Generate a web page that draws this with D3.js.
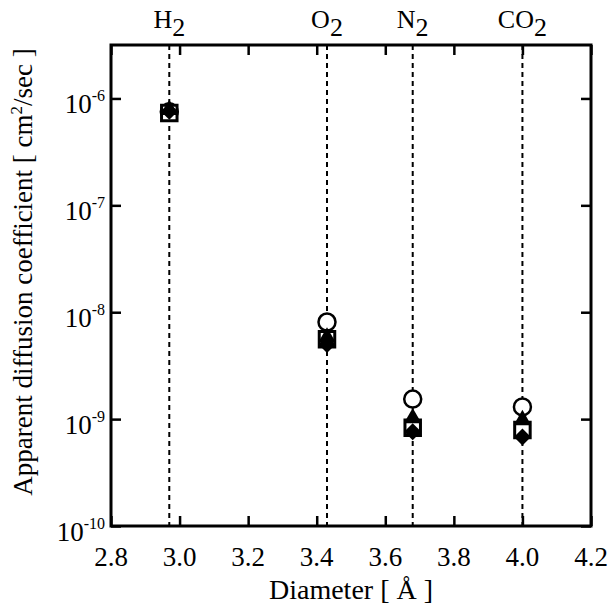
<!DOCTYPE html>
<html>
<head>
<meta charset="utf-8">
<script src="https://cdn.jsdelivr.net/npm/d3@7"></script>
<style>
  html, body { margin: 0; padding: 0; background: #fff; }
</style>
</head>
<body>
<div id="chart"></div>
<script>
const gases = ["H", "O", "N", "CO"];
const diameters = [2.97, 3.43, 3.68, 4.00];
const circleVals = [7.5e-7, 8.1e-9, 1.54e-9, 1.30e-9];
const squareVals = [7.3e-7, 5.6e-9, 8.3e-10, 7.9e-10];
const triangleVals = [7.8e-7, 5.8e-9, 1.02e-9, 9.8e-10];
const diamondVals = [7.6e-7, 5.0e-9, 7.6e-10, 6.8e-10];
const xTicks = [2.8, 3.0, 3.2, 3.4, 3.6, 3.8, 4.0, 4.2];
const yTicks = [1e-10, 1e-9, 1e-8, 1e-7, 1e-6];
const yExps = ["-10", "-9", "-8", "-7", "-6"];

const FONT = "'Liberation Serif', 'Times New Roman', Times, serif";
const W = 612, H = 605;
const margin = { top: 45, right: 21, bottom: 79, left: 111 };
const width = W - margin.left - margin.right;
const height = H - margin.top - margin.bottom;

const svg = d3.select("#chart").append("svg")
  .attr("width", W)
  .attr("height", H)
  .style("font-family", FONT);

const g = svg.append("g")
  .attr("transform", `translate(${margin.left},${margin.top})`);

const x = d3.scaleLinear().domain([2.8, 4.2]).range([0, width]);
const y = d3.scaleLog().domain([1e-10, Math.pow(10, -5.5)]).range([height, 0]);

// guide lines for each gas
g.selectAll(".guide")
  .data(diameters)
  .enter()
  .append("line")
  .attr("x1", d => x(d))
  .attr("x2", d => x(d))
  .attr("y1", 0)
  .attr("y2", height)
  .attr("stroke", "#000")
  .attr("stroke-width", 2)
  .attr("stroke-dasharray", "5,4");

// ticks, all pointing inward
const tickStyle = sel => {
  sel.select(".domain").remove();
  sel.selectAll("line").attr("stroke", "#000").attr("stroke-width", 2.5);
  sel.selectAll("text").remove();
};
g.append("g").attr("transform", `translate(0,${height})`)
  .call(d3.axisBottom(x).tickValues(xTicks).tickSize(-10)).call(tickStyle);
g.append("g")
  .call(d3.axisTop(x).tickValues(xTicks).tickSize(-10)).call(tickStyle);
g.append("g")
  .call(d3.axisLeft(y).tickValues(yTicks).tickSize(-10)).call(tickStyle);
g.append("g").attr("transform", `translate(${width},0)`)
  .call(d3.axisRight(y).tickValues(yTicks).tickSize(-10)).call(tickStyle);

g.append("rect")
  .attr("width", width)
  .attr("height", height)
  .attr("fill", "none")
  .attr("stroke", "#000")
  .attr("stroke-width", 3);

// x tick labels
g.selectAll(".xlab")
  .data(xTicks)
  .enter()
  .append("text")
  .attr("x", d => x(d))
  .attr("y", height + 40)
  .attr("text-anchor", "middle")
  .attr("font-size", "27px")
  .text(d => d.toFixed(1));

// y tick labels with superscript exponents
const ylab = g.selectAll(".ylab")
  .data(yTicks)
  .enter()
  .append("text")
  .attr("x", -6)
  .attr("y", d => y(d) + 15)
  .attr("text-anchor", "end")
  .attr("font-size", "27px");
ylab.append("tspan").text("10");
ylab.append("tspan")
  .attr("dy", -12)
  .attr("font-size", "16px")
  .text((d, i) => yExps[i]);

// gas names on top
const gl = g.selectAll(".gas")
  .data(gases)
  .enter()
  .append("text")
  .attr("x", (d, i) => x(diameters[i]))
  .attr("y", -17)
  .attr("text-anchor", "middle")
  .attr("font-size", "26px");
gl.append("tspan").text(d => d);
gl.append("tspan").attr("dy", 8).text("2");

// axis titles
svg.append("text")
  .attr("x", margin.left + width / 2)
  .attr("y", 599)
  .attr("text-anchor", "middle")
  .attr("font-size", "28px")
  .text("Diameter [ Å ]");

const yt = svg.append("text")
  .attr("transform", `translate(32,272) rotate(-90)`)
  .attr("text-anchor", "middle")
  .attr("font-size", "27px");
yt.append("tspan").text("Apparent diffusion coefficient [ cm");
yt.append("tspan").attr("dy", -10).attr("font-size", "17px").text("2");
yt.append("tspan").attr("dy", 10).text("/sec ]");

// markers: circle (open), square (open, thick), triangle (filled), diamond (filled)
const pts = vals => vals.map((v, i) => ({ x: diameters[i], v }));

g.selectAll(".circ")
  .data(pts(circleVals))
  .enter()
  .append("circle")
  .attr("cx", d => x(d.x))
  .attr("cy", d => y(d.v))
  .attr("r", 8.5)
  .attr("fill", "#fff")
  .attr("stroke", "#000")
  .attr("stroke-width", 2.5);

g.selectAll(".sq")
  .data(pts(squareVals))
  .enter()
  .append("path")
  .attr("d", d3.symbol().type(d3.symbolSquare).size(240))
  .attr("transform", d => `translate(${x(d.x)},${y(d.v)})`)
  .attr("fill", "#fff")
  .attr("stroke", "#000")
  .attr("stroke-width", 3);

g.selectAll(".tri")
  .data(pts(triangleVals))
  .enter()
  .append("path")
  .attr("d", d3.symbol().type(d3.symbolTriangle).size(135))
  .attr("transform", d => `translate(${x(d.x)},${y(d.v)})`)
  .attr("fill", "#000");

g.selectAll(".dia")
  .data(pts(diamondVals))
  .enter()
  .append("path")
  .attr("d", d3.symbol().type(d3.symbolSquare).size(145))
  .attr("transform", d => `translate(${x(d.x)},${y(d.v)}) rotate(45)`)
  .attr("fill", "#000");
</script>
</body>
</html>
